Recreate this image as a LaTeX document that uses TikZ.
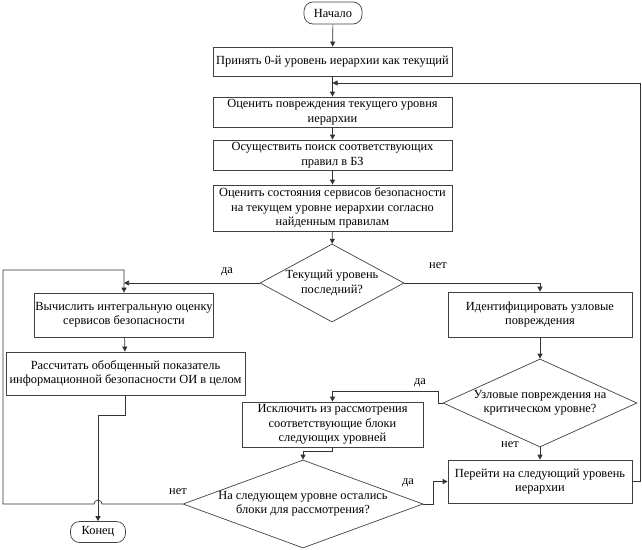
\documentclass[tikz,border=0pt]{standalone}
\usepackage{fontspec}
\setmainfont{Liberation Serif}
\usetikzlibrary{positioning,arrows.meta,calc,shapes.geometric}

\begin{document}
\begin{tikzpicture}[x=1pt, y=1pt, >={Triangle[length=5pt,width=5pt]},
  every node/.style={font=\fontsize{12.4}{14.5}\selectfont},
  b/.style={draw=black!75, line width=0.7pt, align=center, inner sep=1pt},
  t/.style={b, rounded corners=9pt, minimum width=58pt, minimum height=22pt},
  q/.style={b, diamond, inner sep=0pt},
  l/.style={inner sep=1pt},
  c/.style={draw=black!80, line width=0.7pt}]
  \useasboundingbox (0,0) rectangle (642,-549);
  % main column: start and the steps of the current level
  \node[t] (start) at (333,-13) {Начало};
  \node[b, minimum width=239pt, minimum height=29pt] (s0) at (332.5,-61.5)
    {Принять 0-й уровень иерархии как текущий};
  \node[b, minimum width=239pt, minimum height=30pt] (s1) at (332.5,-112)
    {Оценить повреждения текущего уровня\\иерархии};
  \node[b, minimum width=239pt, minimum height=30pt] (s2) at (332.5,-155)
    {Осуществить поиск соответствующих\\правил в БЗ};
  \node[b, minimum width=239pt, minimum height=46pt] (s3) at (332.5,-208)
    {Оценить состояния сервисов безопасности\\на текущем уровне иерархии согласно\\найденным правилам};
  \node[q, shape aspect=1.85, minimum width=144pt, minimum height=78pt] (q1) at (332,-283)
    {Текущий уровень\\последний?};
  % left column: the final estimate
  \node[b, minimum width=178pt, minimum height=44pt] (calc) at (124,-315)
    {Вычислить интегральную оценку\\сервисов безопасности};
  \node[b, minimum width=239pt, minimum height=43pt] (sum) at (125.5,-373.5)
    {Рассчитать обобщенный показатель\\информационной безопасности ОИ в целом};
  \node[t, minimum width=55pt, minimum height=21pt] (fin) at (98,-532) {Конец};
  % right column: nodal damage and the next level
  \node[b, minimum width=184pt, minimum height=45pt] (ident) at (540,-314.5)
    {Идентифицировать узловые\\повреждения};
  \node[q, shape aspect=2.2, minimum width=194pt, minimum height=88pt] (q2) at (540,-403)
    {Узловые повреждения на\\критическом уровне?};
  \node[b, minimum width=181pt, minimum height=45pt] (excl) at (332.5,-424.5)
    {Исключить из рассмотрения\\соответствующие блоки\\следующих уровней};
  \node[b, minimum width=184pt, minimum height=43pt] (next) at (540,-481.5)
    {Перейти на следующий уровень\\иерархии};
  \node[q, shape aspect=2.73, minimum width=240pt, minimum height=88pt] (q3) at (303,-504)
    {На следующем уровне остались\\блоки для рассмотрения?};
  % branch labels
  \node[l] (da1) at (227,-272) {да};
  \node[l] (net1) at (438,-266) {нет};
  \node[l] (da2) at (420,-383) {да};
  \node[l] (net2) at (510,-445) {нет};
  \node[l] (da3) at (408,-483) {да};
  \node[l] (net3) at (178,-492) {нет};
  \coordinate (rr) at (640,-83);
  \coordinate (ll) at (3,-270);
  % connectors
  \draw[c,->] (start) -- (s0);
  \draw[c,->] (s0) -- (s1);
  \draw[c,->] (s1) -- (s2);
  \draw[c,->] (s2) -- (s3);
  \draw[c,->] (s3) -- (q1);
  \draw[c,->] (q1.west) -- (q1.west -| calc.north);
  \draw[c,->] (q1.east) -| (ident.north);
  \draw[c,->] (calc) -- (sum);
  \draw[c,->] (sum.south) -- ++(0,-20) -| (fin.north);
  \draw[c,->] (ident) -- (q2);
  \draw[c,->] (q2.west) -- ++(-4,0) |- ($(excl.north)+(0,10)$) -- (excl.north);
  \draw[c,->] (q2.south) -- (next.north);
  \draw[c,->] (excl.south) -- ++(0,-4) -| (q3.north);
  \draw[c,->] (q3.east) -- ++(10,0) |- (next.west);
  \draw[c,->] (next.east) -| (rr) -- (rr -| s0.south);
  \draw[c,->] (q3.west) -- ([xshift=4pt]q3.west -| fin.north)
    arc[start angle=0, end angle=180, radius=4pt] -- (q3.west -| ll) -- (ll) -| (calc.north);
\end{tikzpicture}
\end{document}
